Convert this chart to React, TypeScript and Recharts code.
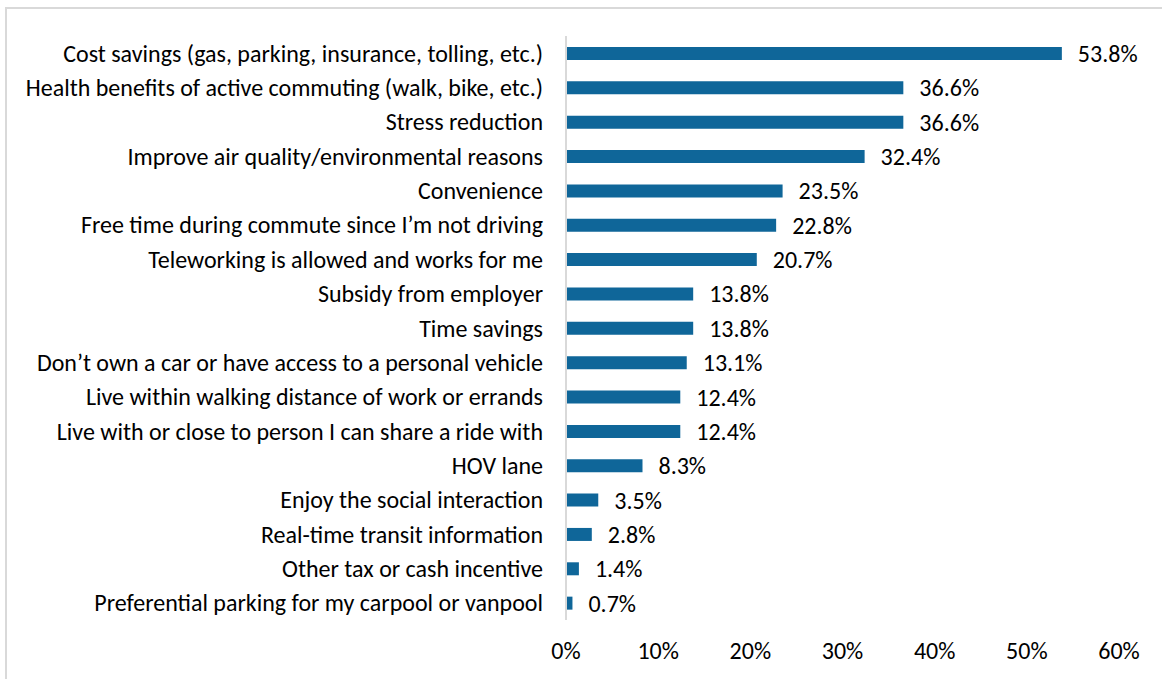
import React from 'react';
import { BarChart, Bar, XAxis, YAxis, LabelList } from 'recharts';

const categories = [
  'Cost savings (gas, parking, insurance, tolling, etc.)',
  'Health benefits of active commuting (walk, bike, etc.)',
  'Stress reduction',
  'Improve air quality/environmental reasons',
  'Convenience',
  'Free time during commute since I’m not driving',
  'Teleworking is allowed and works for me',
  'Subsidy from employer',
  'Time savings',
  'Don’t own a car or have access to a personal vehicle',
  'Live within walking distance of work or errands',
  'Live with or close to person I can share a ride with',
  'HOV lane',
  'Enjoy the social interaction',
  'Real-time transit information',
  'Other tax or cash incentive',
  'Preferential parking for my carpool or vanpool',
];

const shares = [53.8, 36.6, 36.6, 32.4, 23.5, 22.8, 20.7, 13.8, 13.8, 13.1, 12.4, 12.4, 8.3, 3.5, 2.8, 1.4, 0.7];

const xTicks = [0, 10, 20, 30, 40, 50, 60];

const data = categories.map((name, i) => ({ name, value: shares[i] }));

const FONT = 'Calibri, Carlito, Lato, sans-serif';
const FONT_SIZE = 24;
const BAR_COLOR = '#0f6699';

export default function App() {
  return (
    <div style={{ position: 'absolute', left: 0, top: 0, width: 1162, height: 679, background: '#fff', overflow: 'hidden' }}>
      {/* chart frame, right and bottom edges fall outside the picture */}
      <div
        style={{
          position: 'absolute',
          left: 5,
          top: 7,
          width: 1200,
          height: 700,
          borderTop: '2px solid #d9d9d9',
          borderLeft: '2px solid #d9d9d9',
        }}
      />
      <div style={{ position: 'absolute', left: 0, top: 0 }}>
        <BarChart
          width={1162}
          height={679}
          data={data}
          layout="vertical"
          margin={{ top: 36, right: 43, bottom: 19, left: 0 }}
          barSize={13}
        >
          <XAxis
            type="number"
            domain={[0, 60]}
            ticks={xTicks}
            tickFormatter={(v: number) => `${v}%`}
            axisLine={false}
            tickLine={false}
            tickSize={0}
            tickMargin={22}
            height={40}
            tick={{ fontSize: FONT_SIZE, fill: '#000', fontFamily: FONT }}
          />
          <YAxis
            type="category"
            dataKey="name"
            width={566}
            axisLine={{ stroke: '#d9d9d9', strokeWidth: 2 }}
            tickLine={false}
            tickSize={0}
            tickMargin={23}
            interval={0}
            tick={{ fontSize: FONT_SIZE, fill: '#000', fontFamily: FONT }}
          />
          <Bar dataKey="value" fill={BAR_COLOR} isAnimationActive={false}>
            <LabelList
              dataKey="value"
              position="right"
              offset={16}
              formatter={(v: number) => `${v.toFixed(1)}%`}
              style={{ fontSize: FONT_SIZE, fill: '#000', fontFamily: FONT }}
            />
          </Bar>
        </BarChart>
      </div>
    </div>
  );
}
